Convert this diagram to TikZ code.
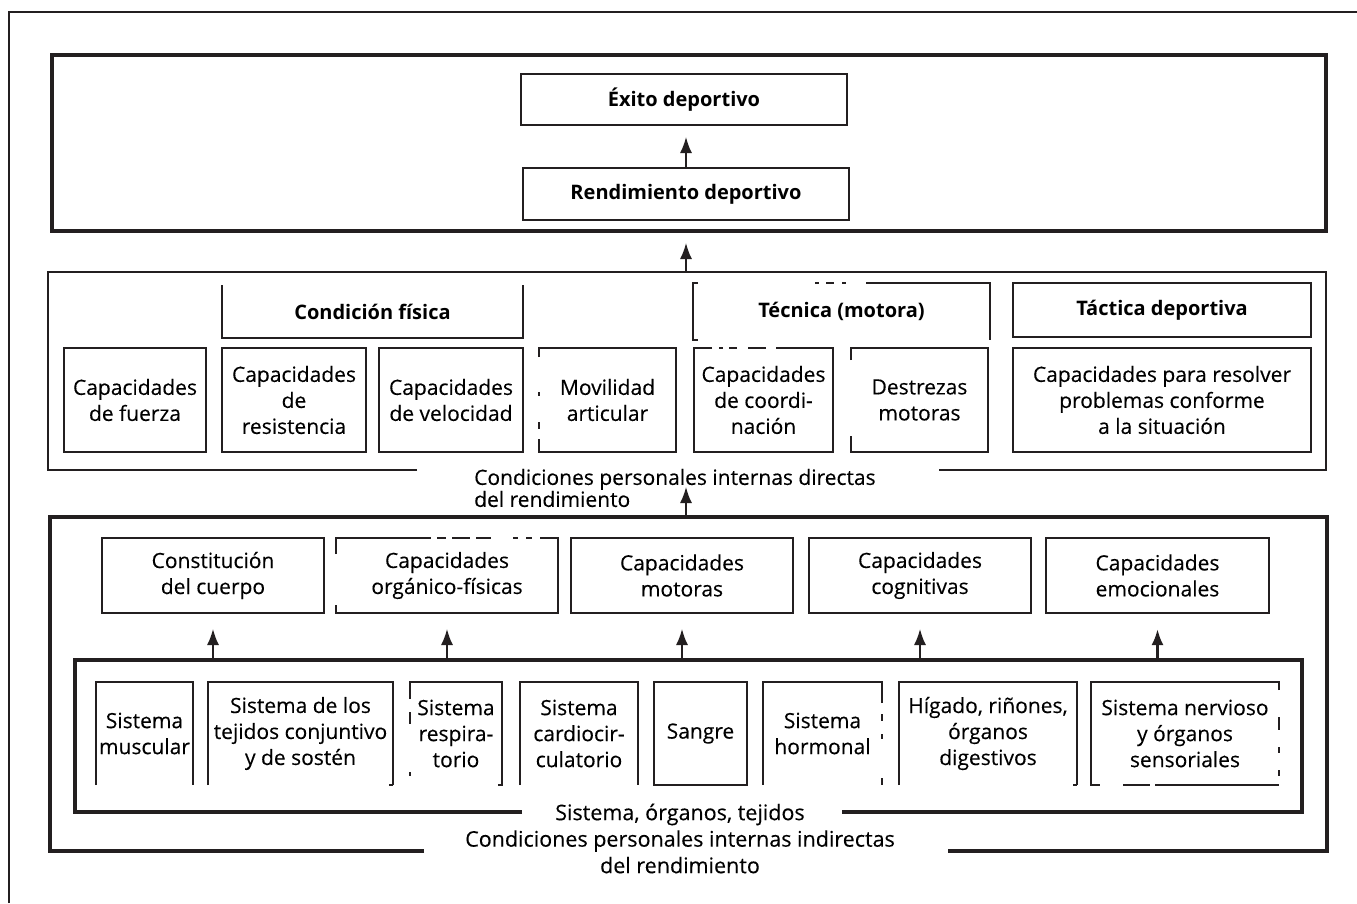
\documentclass[tikz,border=0pt]{standalone}
\usepackage{fontspec}
\setmainfont{Open Sans}
\newfontfamily\bodyface{Open Sans}[FakeBold=0.25]
\usetikzlibrary{arrows.meta,calc}
\definecolor{ink}{RGB}{35,31,32}
\newcommand\lblfont{\bodyface\fontsize{21}{26}\selectfont}
\newcommand\headfont{\fontsize{20}{22}\selectfont\bfseries}
% open-bottom outline of a node
\newcommand\archof[1]{\draw[part] (#1.south west) -- (#1.north west) -- (#1.north east) -- (#1.south east);}

\begin{document}
\begin{tikzpicture}[x=1pt,y=-1pt,
  cell/.style={draw=ink,line width=1.8pt,inner sep=0pt,outer sep=0pt,align=center,font=\lblfont,text=black},
  head/.style={cell,font=\headfont},
  part/.style={draw=ink,line width=1.8pt},
  frame/.style={draw=ink,line width=3.2pt,line join=miter},
  arr/.style={draw=ink,line width=1.6pt,-{Latex[length=16pt,width=12pt]}},
  caption/.style={inner sep=0pt,text=black},
]
\useasboundingbox (0,0) rectangle (1357,903);

% outer frame
\draw[ink,line width=1.3pt] (9,903) -- (9,12) -- (1357,12);

% ---------- top block ----------
\node[cell,draw=none,minimum width=1274pt,minimum height=176pt] (topbox) at (689,143) {};
\draw[frame] (topbox.north west) rectangle (topbox.south east);

\node[head,minimum width=326pt,minimum height=51pt] (exito) at (684,99.5) {Éxito deportivo};
\node[head,minimum width=326pt,minimum height=52pt] (rend) at (686,194) {Rendimiento deportivo};
\coordinate (exitotip) at ($(exito.south)+(0,12)$);
\draw[arr] (rend.north) -- (rend.north |- exitotip);

% ---------- direct conditions ----------
\node[cell,draw=none,minimum width=1278pt,minimum height=198pt] (midbox) at (687,371) {};
\draw[frame,line width=2.6pt] (417,470) -- (midbox.south west) -- (midbox.north west)
  -- (midbox.north east) -- (midbox.south east) -- (939,470);
\coordinate (toptip) at ($(topbox.south)+(0,12)$);
\draw[arr] (midbox.north -| rend.north) -- (toptip -| rend.north);

\node[head,draw=none,minimum width=301pt,minimum height=53pt] (condfis) at (372.5,311.5) {Condición física};
\draw[part] (condfis.north west) -- (condfis.south west) -- (condfis.south east) -- (condfis.north east);

\node[head,draw=none,minimum width=297pt,minimum height=57pt] (tecnica) at (841.5,311.5) {Técnica (motora)};
\draw[part] ($(tecnica.north west)+(5,0)$) -- (tecnica.north west) -- (tecnica.south west) -- ($(tecnica.south west)+(5,0)$);
\draw[part] ($(tecnica.north west)+(173,0)$) -- (tecnica.north east) -- (tecnica.south east);
\draw[part] (815,283) -- (819,283) (826,283) -- (834,283) (842,283) -- (846,283);

\node[head,minimum width=298pt,minimum height=54pt] (tactica) at (1162,310) {Táctica deportiva};

\node[cell,minimum width=142pt,minimum height=104pt] (fuerza) at (135,400) {Capacidades\\de fuerza};
\node[cell,minimum width=144pt,minimum height=104pt] (resist) at (294,400) {Capacidades\\de\\resistencia};
\node[cell,minimum width=144pt,minimum height=104pt] (veloc) at (451,400) {Capacidades\\de velocidad};

\node[cell,draw=none,minimum width=137pt,minimum height=104pt] (movil) at (607.5,400) {Movilidad\\articular};
\draw[part] (539,357) -- (movil.north west) -- (movil.north east) -- (movil.south east) -- (movil.south west) -- (539,439);
\draw[part] (539,392) -- (539,396) (539,422) -- (539,429);

\node[cell,draw=none,minimum width=139pt,minimum height=104pt] (coord) at (763.5,400) {Capacidades\\de coordi-\\nación};
\draw[part] (712,348) -- (coord.north west) -- (coord.south west) -- (coord.south east) -- (coord.north east) -- (776,348);
\draw[part] (719,348) -- (723,348) (729,348) -- (737,348) (748,348) -- (766,348);

\node[cell,draw=none,minimum width=137pt,minimum height=104pt] (destr) at (919.5,400) {Destrezas\\motoras};
\draw[part] (851,360) -- (destr.north west) -- (destr.north east) -- (destr.south east) -- (destr.south west) -- (851,436);

\node[cell,minimum width=298pt,minimum height=104pt] (resolver) at (1162,400) {Capacidades para resolver\\problemas conforme\\a la situación};

\node[caption,anchor=west,align=left,font=\bodyface\fontsize{21}{22}\selectfont] (dlabel) at (474,488)
  {Condiciones personales internas directas\\del rendimiento};

% ---------- indirect conditions ----------
\node[cell,draw=none,minimum width=1277pt,minimum height=334pt] (botbox) at (688.5,684) {};
\draw[frame,line width=3.6pt] (424,851) -- (botbox.south west) -- (botbox.north west)
  -- (botbox.north east) -- (botbox.south east) -- (948,851);
\coordinate (dtip) at (686,487);
\draw[arr] (dtip |- botbox.north) -- (dtip);

\node[cell,minimum width=222pt,minimum height=75pt] (constit) at (213,575.5) {Constitución\\del cuerpo};
\node[cell,draw=none,minimum width=222pt,minimum height=75pt] (organ) at (447,575.5) {Capacidades\\orgánico-físicas};
\draw[part] (336,554) -- (organ.north west) -- (431,538);
\draw[part] (437,538) -- (446,538) (452,538) -- (470,538) (476,538) -- (491,538)
  (513,538) -- (518,538) (526,538) -- (532,538);
\draw[part] (540,538) -- (organ.north east) -- (organ.south east) -- (organ.south west) -- (336,605);
\node[cell,minimum width=222pt,minimum height=75pt] (motor) at (682,575.5) {Capacidades\\motoras};
\node[cell,minimum width=222pt,minimum height=75pt] (cogn) at (920,575.5) {Capacidades\\cognitivas};
\node[cell,minimum width=223pt,minimum height=75pt] (emoc) at (1157.5,575.5) {Capacidades\\emocionales};

\node[cell,draw=none,minimum width=1227pt,minimum height=152pt] (inner) at (688.5,736) {};
\draw[frame] (522,812) -- (inner.south west) -- (inner.north west)
  -- (inner.north east) -- (inner.south east) -- (842,812);

\foreach \n in {constit,organ,motor,cogn}
  \draw[arr] (\n.south |- inner.north) -- ($(\n.south)+(0,16)$);
\draw[arr,line width=2.8pt] (emoc.south |- inner.north) -- ($(emoc.south)+(0,16)$);

\node[cell,draw=none,minimum width=97pt,minimum height=103pt] (muscular) at (144.5,733.5) {Sistema\\muscular};
\archof{muscular}
\node[cell,draw=none,minimum width=185pt,minimum height=103pt] (tejidos) at (300.5,733.5) {Sistema de los\\tejidos conjuntivo\\y de sostén};
\archof{tejidos}
\draw[part] (tejidos.south east) -- ++(-4,0);
\node[cell,draw=none,minimum width=92pt,minimum height=103pt] (respir) at (456,733.5) {Sistema\\respira-\\torio};
\draw[part] (410,699) -- (respir.north west) -- (respir.north east) -- (respir.south east) -- ++(-4,0);
\draw[part] (410,712) -- (410,724) (410,772) -- (410,776);
\node[cell,draw=none,minimum width=118pt,minimum height=103pt] (cardio) at (579,733.5) {Sistema\\cardiocir-\\culatorio};
\archof{cardio}
\node[cell,minimum width=93pt,minimum height=103pt] (sangre) at (700.5,733.5) {Sangre};
\node[cell,draw=none,minimum width=119pt,minimum height=103pt] (hormonal) at (822.5,733.5) {Sistema\\hormonal};
\draw[part] (882,703) -- (hormonal.north east) -- (hormonal.north west) -- (hormonal.south west);
\draw[part] (882,714) -- (882,721) (882,734) -- (882,739) (882,778) -- (882,785);
\node[cell,draw=none,minimum width=178pt,minimum height=103pt] (higado) at (988,733.5) {Hígado, riñones,\\órganos\\digestivos};
\archof{higado}
\draw[part] (higado.south east) -- ++(-4,0);
\node[cell,draw=none,minimum width=188pt,minimum height=103pt] (nervioso) at (1185,733.5) {Sistema nervioso\\y órganos\\sensoriales};
\draw[part] (1279,690) -- (nervioso.north east) -- (nervioso.north west) -- (nervioso.south west) -- (1100,785);
\draw[part] (1123,785) -- (1150,785) (1155,785) -- (1279,785);
\draw[part] (1279,717) -- (1279,730) (1279,747) -- (1279,753) (1279,770) -- (1279,776);

\node[caption,align=center,font=\bodyface\fontsize{21.5}{26.5}\selectfont] (ilabel) at (680,838.5)
  {Sistema, órganos, tejidos\\Condiciones personales internas indirectas\\del rendimiento};
\end{tikzpicture}
\end{document}
